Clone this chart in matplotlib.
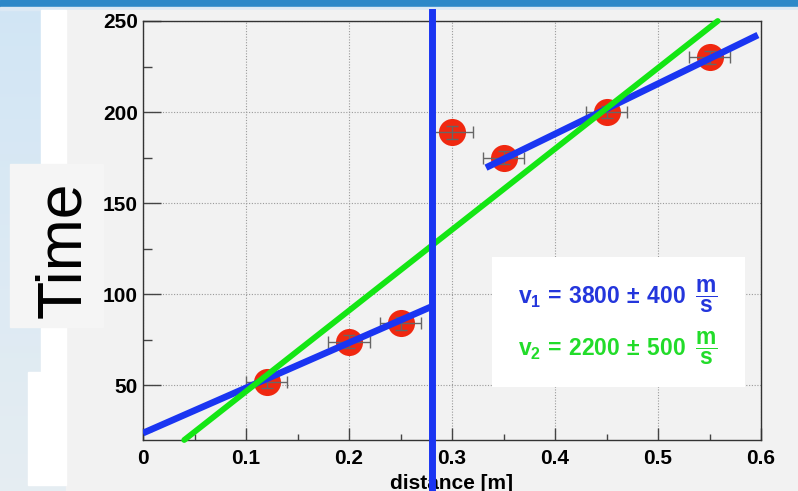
import numpy as np
import matplotlib
matplotlib.use("Agg")
import matplotlib.pyplot as plt
from matplotlib.patches import Rectangle
from matplotlib.transforms import blended_transform_factory

# Measured arrival times versus sensor distance
distance = [0.12, 0.20, 0.25, 0.30, 0.35, 0.45, 0.55]
time = [52, 74, 84, 189, 175, 200, 230]
distance_err = [0.02, 0.02, 0.02, 0.02, 0.02, 0.02, 0.02]
time_err = [3.5, 3.5, 3.5, 3.5, 3.5, 3.5, 3.5]

# Straight-line fits (end points of each drawn segment)
fit1_near_x = [0.0, 0.28]
fit1_near_y = [23.8, 93.2]
fit1_far_x = [0.333, 0.597]
fit1_far_y = [169.5, 242.3]
fit2_x = [0.04, 0.558]
fit2_y = [20.0, 250.0]
boundary_x = 0.281

x_ticks = [0, 0.1, 0.2, 0.3, 0.4, 0.5, 0.6]
x_ticklabels = ["0", "0.1", "0.2", "0.3", "0.4", "0.5", "0.6"]
y_ticks = [50, 100, 150, 200, 250]
y_ticklabels = ["50", "100", "150", "200", "250"]

v1_text = r"$v_1\,=\,3800\,\pm\,400\ \,\dfrac{m}{s}$"
v2_text = r"$v_2\,=\,2200\,\pm\,500\ \,\dfrac{m}{s}$"

BLUE = "#1a35f2"
GREEN = "#14e614"
BLUE_TXT = "#2436dc"
GREEN_TXT = "#22dc2a"

plt.rcParams["font.family"] = ["Liberation Sans", "DejaVu Sans"]
plt.rcParams["mathtext.fontset"] = "custom"
plt.rcParams["mathtext.rm"] = "Liberation Sans:bold"
plt.rcParams["mathtext.it"] = "Liberation Sans:bold"
plt.rcParams["mathtext.bf"] = "Liberation Sans:bold"
plt.rcParams["mathtext.sf"] = "Liberation Sans:bold"

W, H = 798, 491
fig = plt.figure(figsize=(W / 100, H / 100), dpi=100)

# ---- slide background -------------------------------------------------
bg = fig.add_axes([0, 0, 1, 1], zorder=-10)
bg.set_xlim(0, W)
bg.set_ylim(H, 0)
bg.axis("off")
grad = np.linspace(0, 1, 256)[:, None]
top = np.array([0.82, 0.90, 0.96])
bot = np.array([0.90, 0.93, 0.95])
img = top[None, None, :] * (1 - grad[..., None]) + bot[None, None, :] * grad[..., None]
bg.imshow(img, extent=[0, W, H, 0], aspect="auto", zorder=0)
bg.add_patch(Rectangle((0, 0), W, 7, color="#2d88c8", zorder=1))
bg.add_patch(Rectangle((0, 7), W, 3, color="#dce9f4", zorder=1))
bg.add_patch(Rectangle((66, 10), W - 66, H - 10, color="#f2f2f2", zorder=1))
bg.add_patch(Rectangle((41, 10), 25, 362, color="#ffffff", zorder=1))
bg.add_patch(Rectangle((28, 372), 38, 113, color="#ffffff", zorder=1))
bg.add_patch(Rectangle((10, 164), 93, 163, color="#f5f5f5", zorder=2))
bg.text(80, 249.5, "Time", rotation=90, rotation_mode="anchor",
        ha="center", va="baseline", fontsize=45, color="black",
        family="Liberation Sans", zorder=3)

# ---- main plot --------------------------------------------------------
L, R, T, B = 143, 761, 21, 440
ax = fig.add_axes([L / W, (H - B) / H, (R - L) / W, (B - T) / H])
ax.set_facecolor("#f2f2f2")
ax.set_xlim(0, 0.6)
ax.set_ylim(20, 250)

ax.set_xticks(x_ticks)
ax.set_xticklabels(x_ticklabels)
ax.set_yticks(y_ticks)
ax.set_yticklabels(y_ticklabels)
ax.set_xticks(np.arange(0.05, 0.6, 0.1), minor=True)
ax.set_yticks([25, 75, 125, 175, 225], minor=True)

for lab in ax.get_xticklabels() + ax.get_yticklabels():
    lab.set_fontweight("bold")
    lab.set_fontsize(15)

ax.tick_params(axis="x", which="major", direction="in", length=9, width=1,
               color="#444444", pad=6.5, top=False)
ax.tick_params(axis="x", which="minor", direction="in", length=4.5, width=1,
               color="#444444", top=False)
ax.tick_params(axis="y", which="major", direction="in", length=13, width=1,
               color="#444444", pad=3.6, right=False)
ax.tick_params(axis="y", which="minor", direction="in", length=6.5, width=1,
               color="#444444", right=False)

for s in ax.spines.values():
    s.set_color("#333333")
    s.set_linewidth(1.0)

ax.grid(True, which="major", color="#9a9a9a", linestyle=(0, (1, 1.5)),
        linewidth=0.8)

# data points with error bars
ax.plot(distance, time, "o", color="#f02810", markersize=19.5,
        markeredgewidth=0, zorder=3)
ax.errorbar(distance, time, xerr=distance_err, yerr=time_err, fmt="none",
            ecolor="#666666", elinewidth=1, capsize=4.3, capthick=1, zorder=4)

# fits
ax.plot(fit1_near_x, fit1_near_y, color=BLUE, linewidth=4.8,
        solid_capstyle="butt", zorder=5)
ax.plot(fit1_far_x, fit1_far_y, color=BLUE, linewidth=4.8,
        solid_capstyle="butt", zorder=5, clip_on=False)
ax.plot(fit2_x, fit2_y, color=GREEN, linewidth=4.2,
        solid_capstyle="round", zorder=6, clip_on=False)

# boundary between the two regimes, running past the frame
trans = blended_transform_factory(ax.transData, ax.transAxes)
ax.plot([boundary_x, boundary_x], [(B - 12) / (B - T), (B - H) / (B - T)],
        color=BLUE, linewidth=5.0, transform=trans, clip_on=False, zorder=10)

# x-axis title
ax.text(0.5, (B - 489) / (B - T), "distance [m]", transform=ax.transAxes,
        ha="center", va="baseline", fontsize=15, fontweight="bold",
        clip_on=False, zorder=2)

# fit result box
ax.add_patch(Rectangle((0.5643, 0.1272), 0.4097, 0.3088, transform=ax.transAxes,
                       facecolor="white", edgecolor="none", zorder=7))
ax.text(0.768, 0.3437, v1_text, transform=ax.transAxes, ha="center",
        va="center", fontsize=16.5, color=BLUE_TXT, zorder=8)
ax.text(0.768, 0.2196, v2_text, transform=ax.transAxes, ha="center",
        va="center", fontsize=16.5, color=GREEN_TXT, zorder=8)

fig.savefig("out.png", dpi=100)
